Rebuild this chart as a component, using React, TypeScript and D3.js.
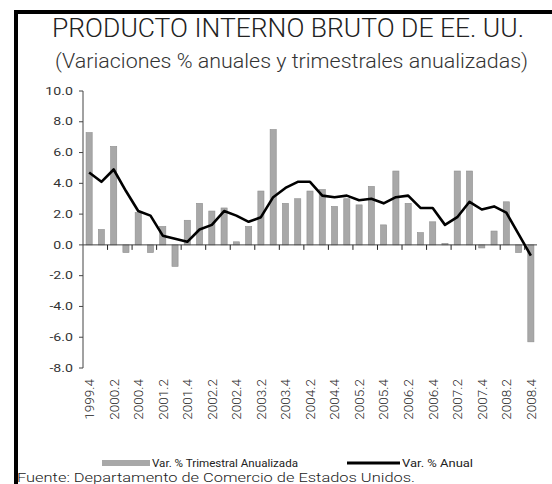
import React from 'react';
import * as d3 from 'd3';

// trimestres 1999.4 - 2008.4
const quarters = [
  '1999.4',
  '2000.1', '2000.2', '2000.3', '2000.4',
  '2001.1', '2001.2', '2001.3', '2001.4',
  '2002.1', '2002.2', '2002.3', '2002.4',
  '2003.1', '2003.2', '2003.3', '2003.4',
  '2004.1', '2004.2', '2004.3', '2004.4',
  '2005.1', '2005.2', '2005.3', '2005.4',
  '2006.1', '2006.2', '2006.3', '2006.4',
  '2007.1', '2007.2', '2007.3', '2007.4',
  '2008.1', '2008.2', '2008.3', '2008.4',
];

// Var. % Trimestral Anualizada
const quarterly = [
  7.3, 1.0, 6.4, -0.5, 2.1,
  -0.5, 1.2, -1.4, 1.6,
  2.7, 2.2, 2.4, 0.2,
  1.2, 3.5, 7.5, 2.7,
  3.0, 3.5, 3.6, 2.5,
  3.0, 2.6, 3.8, 1.3,
  4.8, 2.7, 0.8, 1.5,
  0.1, 4.8, 4.8, -0.2,
  0.9, 2.8, -0.5, -6.3,
];

// Var. % Anual
const annual = [
  4.7, 4.1, 4.9, 3.5, 2.2,
  1.9, 0.6, 0.4, 0.2,
  1.0, 1.3, 2.2, 1.9,
  1.5, 1.8, 3.1, 3.7,
  4.1, 4.1, 3.2, 3.1,
  3.2, 2.9, 3.0, 2.7,
  3.1, 3.2, 2.4, 2.4,
  1.3, 1.8, 2.8, 2.3,
  2.5, 2.1, 0.7, -0.7,
];

const yTicks = [-8, -6, -4, -2, 0, 2, 4, 6, 8, 10];

const title = 'PRODUCTO INTERNO BRUTO DE EE. UU.';
const subtitle = '(Variaciones % anuales y trimestrales anualizadas)';
const barLabel = 'Var. % Trimestral Anualizada';
const lineLabel = 'Var. % Anual';
const source = 'Fuente: Departamento de Comercio de Estados Unidos.';

const W = 552;
const H = 484;
const left = 83, right = 537, top = 91, bottom = 368;
const lightFont = 'Roboto, "Liberation Sans", sans-serif';

export default function App() {
  const x = d3.scaleBand<string>()
    .domain(quarters)
    .range([left, right])
    .paddingInner(0.5)
    .paddingOuter(0.25);
  const step = x.step();
  const cx = (q: string) => (x(q) as number) + x.bandwidth() / 2;

  const y = d3.scaleLinear().domain([-8, 10]).range([bottom, top]);
  const y0 = y(0);

  const line = d3.line<number>()
    .x((d, i) => cx(quarters[i]))
    .y(d => y(d));

  // marcas del eje x cada dos trimestres, entre categorias
  const xTickPos = d3.range(2, quarters.length, 2).map(k => left + k * step);

  return (
    <svg width={W} height={H} style={{ position: 'absolute', left: 0, top: 0 }}>
      <rect x={0} y={0} width={W} height={H} fill="#fff" />
      {/* marco */}
      <rect x={14} y={10} width={W - 14} height={4} fill="#000" />
      <rect x={14} y={10} width={4} height={H - 10} fill="#000" />

      <text x={52} y={37} fontFamily={lightFont} fontWeight={300} fontSize={26}
        fill="#222" textLength={472} lengthAdjust="spacingAndGlyphs">{title}</text>
      <text x={55} y={68} fontFamily={lightFont} fontWeight={300} fontSize={19.5}
        fill="#333" textLength={473} lengthAdjust="spacingAndGlyphs">{subtitle}</text>

      {/* barras */}
      {quarterly.map((v, i) => (
        <rect key={quarters[i]}
          x={x(quarters[i])}
          y={Math.min(y(v), y0)}
          width={x.bandwidth()}
          height={Math.abs(y(v) - y0)}
          fill="#a8a8a8" stroke="#8f8f8f" strokeWidth={0.6} />
      ))}

      {/* eje y */}
      <line x1={left} x2={left} y1={top} y2={bottom} stroke="#444" />
      {yTicks.map(t => (
        <g key={t}>
          <line x1={left - 4} x2={left} y1={y(t)} y2={y(t)} stroke="#444" />
          <text transform={`translate(73,${y(t)}) scale(1.35,1)`} textAnchor="end"
            dy="0.35em" fontFamily={lightFont} fontSize={10.5} fill="#333">{t.toFixed(1)}</text>
        </g>
      ))}

      {/* eje x */}
      <line x1={left} x2={right} y1={y0} y2={y0} stroke="#444" />
      {xTickPos.map(p => (
        <line key={p} x1={p} x2={p} y1={y0} y2={y0 + 5} stroke="#222" />
      ))}
      {quarters.map((q, i) => i % 2 === 0 ? (
        <text key={q} transform={`translate(${cx(q)},379) rotate(-90)`}
          textAnchor="end" dy="0.36em" fontFamily={lightFont} fontWeight={300} fontSize={13.5}
          fill="#222">{q}</text>
      ) : null)}

      {/* linea anual */}
      <path d={line(annual) || ''} fill="none" stroke="#000" strokeWidth={2.6}
        strokeLinejoin="round" />

      {/* leyenda */}
      <rect x={102} y={460} width={48} height={6} fill="#a8a8a8" />
      <text x={152} y={467} fontFamily={lightFont} fontSize={11} fill="#222"
        textLength={146} lengthAdjust="spacingAndGlyphs">{barLabel}</text>
      <line x1={347} x2={400} y1={463} y2={463} stroke="#000" strokeWidth={3} />
      <text x={402} y={467} fontFamily={lightFont} fontSize={11} fill="#222"
        textLength={71} lengthAdjust="spacingAndGlyphs">{lineLabel}</text>

      <text x={17} y={482} fontFamily={lightFont} fontWeight={300} fontSize={12.5} fill="#222"
        textLength={398} lengthAdjust="spacingAndGlyphs">{source}</text>
    </svg>
  );
}
